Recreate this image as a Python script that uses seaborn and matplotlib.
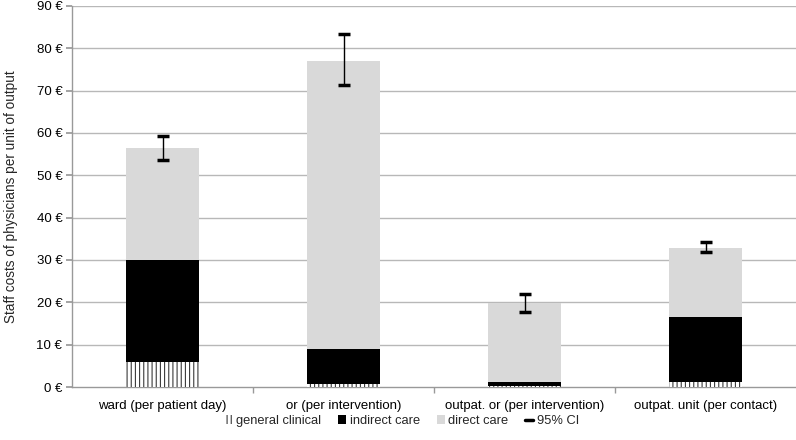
import matplotlib
matplotlib.use("Agg")
import matplotlib.pyplot as plt
import seaborn as sns
import numpy as np
import pandas as pd
from matplotlib.patches import Patch
from matplotlib.lines import Line2D
from matplotlib.ticker import FuncFormatter, FixedLocator

categories = ["ward (per patient day)", "or (per intervention)",
              "outpat. or (per intervention)", "outpat. unit (per contact)"]
general_clinical = [6.0, 0.6, 0.2, 1.25]
indirect_care = [24.0, 8.3, 1.05, 15.25]
direct_care = [26.4, 68.1, 18.65, 16.3]
ci_low = [53.6, 71.3, 17.8, 31.8]
ci_high = [59.4, 83.3, 22.0, 34.3]
yticks = [0, 10, 20, 30, 40, 50, 60, 70, 80, 90]

sns.set_theme(style="white")
plt.rcParams["font.family"] = ["Liberation Sans", "DejaVu Sans"]
plt.rcParams["hatch.linewidth"] = 0.8

gen = np.array(general_clinical)
ind = gen + np.array(indirect_care)
tot = ind + np.array(direct_care)

df = pd.DataFrame({"cat": categories, "gen": gen, "ind": ind, "tot": tot})

fig = plt.figure(figsize=(7.96, 4.4), dpi=100)
ax = fig.add_axes([72/796, 1-387/440, 724/796, 381/440])

for y in yticks[1:]:
    ax.axhline(y, color="#b8b8b8", lw=1.0, zorder=0)

sns.barplot(data=df, x="cat", y="tot", color="#d9d9d9", width=0.4,
            saturation=1, errorbar=None, linewidth=0, ax=ax, zorder=2)
sns.barplot(data=df, x="cat", y="ind", color="#000000", width=0.4,
            saturation=1, errorbar=None, linewidth=0, ax=ax, zorder=3)
sns.barplot(data=df, x="cat", y="gen", color="#ffffff", width=0.4,
            saturation=1, errorbar=None, linewidth=0, edgecolor="#3a3a3a",
            hatch="||||", ax=ax, zorder=4)

x = np.arange(len(categories))
mid = (np.array(ci_low) + np.array(ci_high)) / 2
yerr = np.vstack([mid - np.array(ci_low), np.array(ci_high) - mid])
ax.errorbar(x, mid, yerr=yerr, fmt="none", ecolor="black", elinewidth=1.0,
            capsize=4.5, capthick=2.5, zorder=5)

ax.set_ylim(0, 90)
ax.set_xlim(-0.5, 3.5)
ax.set_yticks(yticks)
ax.yaxis.set_major_formatter(FuncFormatter(lambda v, p: f"{int(v)} €"))
ax.tick_params(axis="y", left=True, length=4, color="#999999", labelsize=9.5,
               labelcolor="black", pad=3)
ax.tick_params(axis="x", bottom=False, labelsize=9.5, labelcolor="black", pad=3)
ax.xaxis.set_minor_locator(FixedLocator([0.5, 1.5, 2.5]))
ax.tick_params(axis="x", which="minor", bottom=True, length=4, color="#999999")
ax.set_xlabel("")
ax.set_ylabel("Staff costs of physicians per unit of output", fontsize=9.8,
              labelpad=13)
for s in ["top", "right"]:
    ax.spines[s].set_visible(False)
for s in ["left", "bottom"]:
    ax.spines[s].set_color("#999999")
    ax.spines[s].set_linewidth(1.0)

handles = [
    Patch(facecolor="white", edgecolor="#3a3a3a", hatch="||||", linewidth=0),
    Patch(facecolor="black", linewidth=0),
    Patch(facecolor="#d9d9d9", linewidth=0),
    Line2D([0], [0], color="black", lw=2.5),
]
labels = ["general clinical", "indirect care", "direct care", "95% CI"]
fig.legend(handles, labels, loc="center", bbox_to_anchor=(0.505, 0.043),
           ncol=4, frameon=False, fontsize=9.3, handlelength=0.6,
           handleheight=0.6, handletextpad=0.3, columnspacing=1.3)

fig.savefig("out.png", dpi=100)
